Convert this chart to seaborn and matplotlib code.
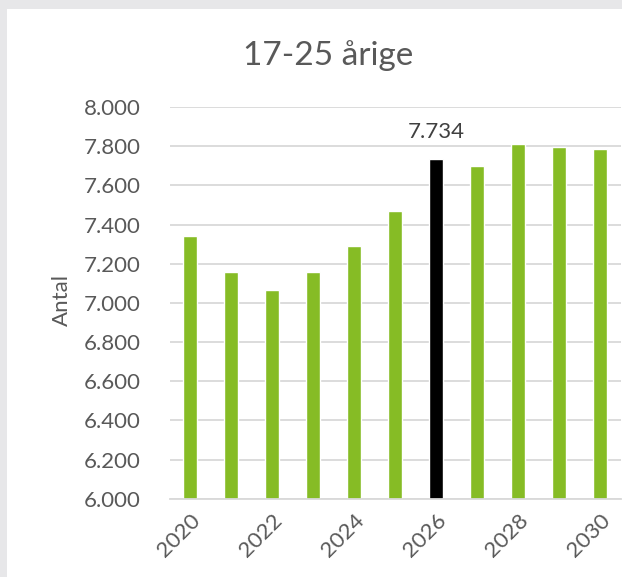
import numpy as np
import pandas as pd
import matplotlib
matplotlib.use('Agg')
import matplotlib.pyplot as plt
import seaborn as sns
from matplotlib.patches import Rectangle

# data
years = [2020, 2021, 2022, 2023, 2024, 2025, 2026, 2027, 2028, 2029, 2030]
antal = [7340, 7160, 7068, 7160, 7291, 7470, 7734, 7700, 7811, 7796, 7784]
highlight_year = 2026
y_ticks = [6000, 6200, 6400, 6600, 6800, 7000, 7200, 7400, 7600, 7800, 8000]

df = pd.DataFrame({'year': [str(y) for y in years], 'antal': antal})
green = '#86BC25'
palette = {str(y): ('#000000' if y == highlight_year else green) for y in years}

sns.set_style('white')
plt.rcParams['font.family'] = ['Lato', 'DejaVu Sans']
txt_color = '#595959'

fig = plt.figure(figsize=(6.22, 5.77), dpi=100)
fig.patch.set_facecolor('#E7E7E9')
# white chart area inside the grey frame
fig.patches.append(Rectangle((7 / 622, 0), 1, 1 - 9 / 577, transform=fig.transFigure,
                             facecolor='white', edgecolor='none', zorder=-1))

ax = fig.add_axes([169.5 / 622, 78.3 / 577, 451 / 622, 391.7 / 577])
ax.set_facecolor('none')
ax.set_zorder(2)

sns.barplot(data=df, x='year', y='antal', hue='year', palette=palette,
            width=0.33, legend=False, ax=ax, saturation=1)

ax.set_ylim(6000, 8000)
ax.set_xlim(-0.5, len(years) - 0.5)
ax.set_yticks(y_ticks)
ax.set_yticklabels([f'{v:,.0f}'.replace(',', '.') for v in y_ticks])
ax.yaxis.grid(True, color='#D9D9D9', linewidth=1.3)
ax.set_axisbelow(True)

tick_pos = list(range(0, len(years), 2))
ax.set_xticks(tick_pos)
ax.set_xticklabels([str(years[i]) for i in tick_pos], rotation=45,
                   ha='right', rotation_mode='anchor')

for s in ['top', 'right', 'left']:
    ax.spines[s].set_visible(False)
ax.spines['bottom'].set_color('#D9D9D9')
ax.spines['bottom'].set_linewidth(1.3)

ax.tick_params(axis='both', length=0, labelsize=16, labelcolor=txt_color)
ax.tick_params(axis='y', pad=21)
ax.tick_params(axis='x', pad=8)
ax.set_xlabel('')
ax.set_ylabel('')

# value label on highlighted bar
hi = years.index(highlight_year)
ax.text(hi, antal[hi] + 85, f'{antal[hi]:,.0f}'.replace(',', '.'),
        ha='center', va='bottom', fontsize=16, color='#404040')

fig.text(328 / 622, 1 - 56 / 577, '17-25 årige', ha='center', va='center',
         fontsize=24, color=txt_color, zorder=3)
fig.text(62 / 622, 1 - 300 / 577, 'Antal', ha='center', va='center',
         rotation=90, fontsize=16, color=txt_color, zorder=3)

fig.savefig('out.png', dpi=100, facecolor=fig.get_facecolor())
